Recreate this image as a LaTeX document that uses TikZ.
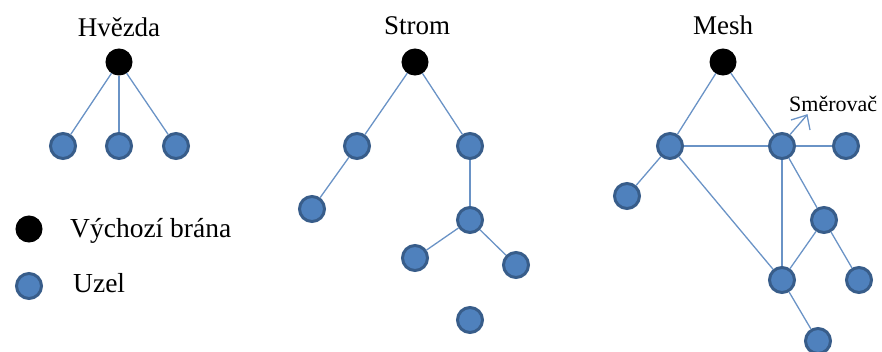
\documentclass[tikz,border=0pt]{standalone}
\usepackage{fontspec}
\setmainfont{Liberation Serif}
\definecolor{nodefill}{HTML}{4F81BD}
\definecolor{nodeedge}{HTML}{385D8A}
\definecolor{linkcol}{HTML}{6A93C6}
\begin{document}
\begin{tikzpicture}[x=1pt,y=-1pt,
  gateway/.style={circle,fill=black,draw=black,line width=1pt,minimum size=26pt,inner sep=0pt},
  host/.style={circle,fill=nodefill,draw=nodeedge,line width=3pt,minimum size=25pt,inner sep=0pt},
  link/.style={draw=linkcol,line width=1.3pt},
  heading/.style={font=\fontsize{27}{29}\selectfont,anchor=base,inner sep=0pt},
  legendtext/.style={font=\fontsize{27.5}{29}\selectfont,anchor=base west,inner sep=0pt},
  tag/.style={font=\fontsize{22}{24}\selectfont,anchor=base west,inner sep=0pt}]
\useasboundingbox (0,0) rectangle (882,351);

% Star topology
\node[heading] (t1) at (119,36) {Hvězda};
\node[gateway] (s0) at (119,62) {};
\node[host] (s1) at (63,146) {};
\node[host] (s2) at (119,146) {};
\node[host] (s3) at (176,146) {};
\draw[link] (s0) -- (s1);
\draw[link] (s0) -- (s2);
\draw[link] (s0) -- (s3);

% Legend
\node[gateway] (lg) at (29,229) {};
\node[legendtext] (lgt) at (70,237) {Výchozí brána};
\node[host] (lh) at (29,286) {};
\node[legendtext] (lht) at (73,292) {Uzel};

% Tree topology
\node[heading] (t2) at (417,34) {Strom};
\node[gateway] (r0) at (415,62) {};
\node[host] (r1) at (357,146) {};
\node[host] (r2) at (470,146) {};
\node[host] (r3) at (312,209) {};
\node[host] (r4) at (470,220) {};
\node[host] (r5) at (415,258) {};
\node[host] (r6) at (516,265) {};
\node[host] (r7) at (470,320) {};
\draw[link] (r0) -- (r1);
\draw[link] (r0) -- (r2);
\draw[link] (r1) -- (r3);
\draw[link] (r2) -- (r4);
\draw[link] (r4) -- (r5);
\draw[link] (r4) -- (r6);

% Mesh topology
\node[heading] (t3) at (723,34) {Mesh};
\node[gateway] (m0) at (723,62) {};
\node[host] (ma) at (670,146) {};
\node[host] (mb) at (782,146) {};
\node[host] (mc) at (846,146) {};
\node[host] (md) at (627,196) {};
\node[host] (me) at (824,220) {};
\node[host] (mf) at (782,280) {};
\node[host] (mg) at (859,280) {};
\node[host] (mh) at (818,341) {};
\draw[link] (m0) -- (ma);
\draw[link] (m0) -- (mb);
\draw[link] (ma) -- (mb);
\draw[link] (mb) -- (mc);
\draw[link] (ma) -- (md);
\draw[link] (ma) -- (mf);
\draw[link] (mb) -- (mf);
\draw[link] (mb) -- (me);
\draw[link] (me) -- (mf);
\draw[link] (me) -- (mg);
\draw[link] (mf) -- (mh);

% Router callout: shaft plus an open V head
\node[tag] (tr) at (789,111) {Směrovač};
\coordinate (tip) at (807,115);
\draw[link] (mb.55) -- (tip);
\draw[link,line join=miter] ([shift={(-16,5)}]tip) -- (tip) -- ([shift={(3,15)}]tip);
\end{tikzpicture}
\end{document}
